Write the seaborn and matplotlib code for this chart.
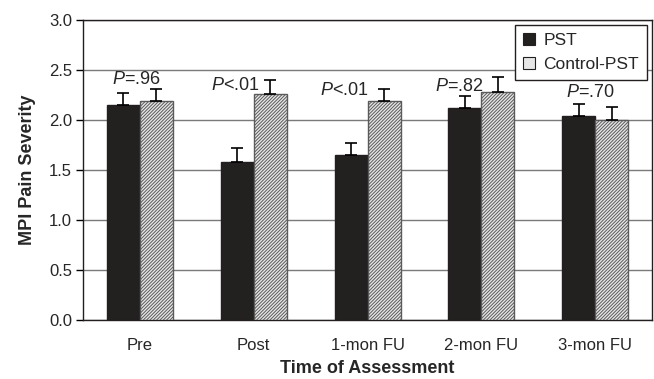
import numpy as np
import pandas as pd
import matplotlib
matplotlib.use("Agg")
import matplotlib.pyplot as plt
import seaborn as sns

# valores
momentos = ["Pre", "Post", "1-mon FU", "2-mon FU", "3-mon FU"]
grupos = ["PST", "Control-PST"]
media_pst = [2.15, 1.58, 1.65, 2.12, 2.04]
media_controle = [2.19, 2.26, 2.19, 2.28, 2.00]
ep_pst = [0.12, 0.14, 0.12, 0.12, 0.12]
ep_controle = [0.12, 0.14, 0.12, 0.15, 0.13]
valores_p = ["=.96", "<.01", "<.01", "=.82", "=.70"]

# posição dos rótulos de P (layout)
p_dx = [-0.03, -0.16, -0.20, -0.19, -0.04]
p_y = [2.41, 2.35, 2.30, 2.34, 2.28]

df = pd.DataFrame({
    "momento": momentos * 2,
    "grupo": [grupos[0]] * 5 + [grupos[1]] * 5,
    "media": media_pst + media_controle,
})

sns.set_style("white")
plt.rcParams["font.family"] = ["Liberation Sans", "DejaVu Sans"]
plt.rcParams["mathtext.fontset"] = "custom"
plt.rcParams["mathtext.it"] = "Liberation Sans:italic"
plt.rcParams["mathtext.rm"] = "Liberation Sans"
plt.rcParams["hatch.linewidth"] = 0.7

fig = plt.figure(figsize=(6.54, 3.79), dpi=100)
ax = fig.add_axes([0.127, 0.156, 0.870, 0.791])

sns.barplot(data=df, x="momento", y="media", hue="grupo", order=momentos,
            hue_order=grupos, palette=["#231f20", "#e6e6e6"], width=0.58,
            edgecolor="#231f20", linewidth=1, errorbar=None, ax=ax, zorder=3)

for patch in ax.containers[1]:
    patch.set_hatch("//////////")
    patch.set_edgecolor("#5a5a5a")

erros = [ep_pst, ep_controle]
for cont, ep in zip(ax.containers, erros):
    xs = [p.get_x() + p.get_width() / 2 for p in cont]
    ys = [p.get_height() for p in cont]
    ax.errorbar(xs, ys, yerr=[np.zeros(len(ep)), ep], fmt="none",
                ecolor="black", elinewidth=1.2, capsize=4.5, capthick=1.2, zorder=4)

for i, pv in enumerate(valores_p):
    ax.text(i + p_dx[i], p_y[i], r"$\mathit{P}$" + pv, ha="center", va="center",
            fontsize=13, zorder=5)

ax.set_ylim(0, 3.0)
ax.set_xlim(-0.5, 4.5)
ax.set_yticks(np.arange(0, 3.01, 0.5))
ax.set_yticklabels([f"{v:.1f}" for v in np.arange(0, 3.01, 0.5)], fontsize=12)
ax.set_xticks(range(5))
ax.set_xticklabels(momentos, fontsize=12)
ax.set_xticks(np.arange(-0.5, 5, 1), minor=True)
ax.tick_params(axis="x", which="major", length=0, pad=13)
ax.tick_params(axis="x", which="minor", length=4, width=1, direction="out", color="black")
ax.tick_params(axis="y", length=5, width=1, direction="out", color="black", pad=3, left=True)
ax.yaxis.grid(True, color="#7a7a7a", linewidth=1)
ax.set_axisbelow(True)
for s in ax.spines.values():
    s.set_color("#231f20")
    s.set_linewidth(1)

ax.set_xlabel("Time of Assessment", fontsize=13, fontweight="bold", labelpad=5)
ax.set_ylabel("MPI Pain Severity", fontsize=13, fontweight="bold", labelpad=9)

leg = ax.legend(loc="upper right", fontsize=12.5, frameon=True, fancybox=False,
                edgecolor="#231f20", framealpha=1, handlelength=0.7, handleheight=0.7,
                borderaxespad=0.3, labelspacing=0.5, handletextpad=0.5, title=None,
                borderpad=0.45)
leg.get_frame().set_linewidth(1)
for h in leg.legend_handles:
    h.set_linewidth(0.8)

fig.savefig("out.png", dpi=100)
